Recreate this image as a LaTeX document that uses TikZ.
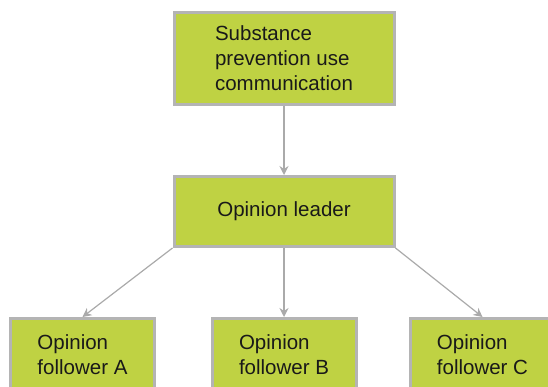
\documentclass[tikz,border=0pt]{standalone}
\usepackage{fontspec}
\setmainfont{Liberation Sans}
\usetikzlibrary{arrows.meta}
\definecolor{boxgreen}{RGB}{191,210,67}
\definecolor{boxgray}{RGB}{180,180,180}
\definecolor{arrgray}{RGB}{170,170,170}
\tikzset{
  box/.style={draw=boxgray, line width=3pt, fill=boxgreen, inner sep=0pt,
    align=left, text=black!90,
    font=\fontsize{20.5}{25}\selectfont},
  conn/.style={draw=arrgray, line width=1.2pt, -{Stealth[length=9pt,width=9pt]}}
}
\begin{document}
\begin{tikzpicture}[x=1pt,y=-1pt]
\useasboundingbox (0,0) rectangle (548,387);
\begin{scope}
\clip (0,0) rectangle (548,387);
\node[box, minimum width=220pt, minimum height=92pt] (top) at (284,58.5)
  {Substance\\prevention use\\communication};
\node[box, minimum width=220pt, minimum height=70pt] (mid) at (284,211.5)
  {Opinion leader};
\node[box, minimum width=144pt, minimum height=72pt] (a) at (82.5,354.5)
  {Opinion\\follower A};
\node[box, minimum width=144pt, minimum height=72pt] (b) at (284,354.5)
  {Opinion\\follower B};
\node[box, minimum width=144pt, minimum height=72pt] (c) at (482.5,354.5)
  {Opinion\\follower C};
\end{scope}
\draw[conn] (top.south) -- (mid.north);
\draw[conn] (mid.south west) -- (a.north);
\draw[conn] (mid.south) -- (b.north);
\draw[conn] (mid.south east) -- (c.north);
\end{tikzpicture}
\end{document}
